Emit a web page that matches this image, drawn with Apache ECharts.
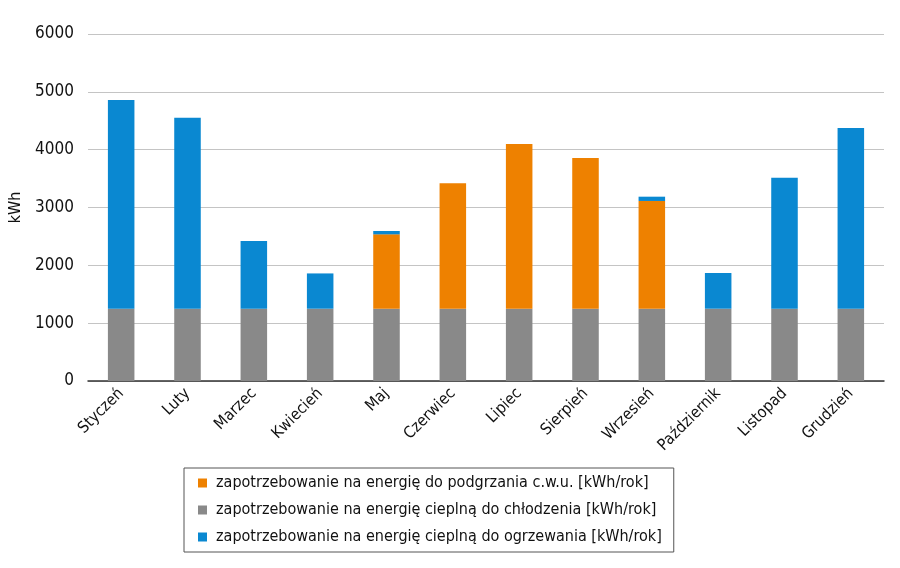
<!DOCTYPE html>
<html>
<head>
<meta charset="utf-8">
<script src="https://cdn.jsdelivr.net/npm/echarts@6/dist/echarts.min.js"></script>
<style>
  html, body { margin: 0; padding: 0; background: #fff; }
  #chart { width: 900px; height: 568px; }
</style>
</head>
<body>
<div id="chart"></div>
<script>
// monthly energy demand, kWh
const months = ["Styczeń", "Luty", "Marzec", "Kwiecień", "Maj", "Czerwiec", "Lipiec",
    "Sierpień", "Wrzesień", "Październik", "Listopad", "Grudzień"];
const cooling = [1250, 1250, 1250, 1250, 1250, 1250, 1250, 1250, 1250, 1250, 1250, 1250];
const hotWater = [0, 0, 0, 0, 1286, 2170, 2850, 2605, 1863, 0, 0, 0];
const heating = [3610, 3300, 1170, 610, 58, 0, 0, 0, 74, 617, 2266, 3125];
const seriesNames = [
    "zapotrzebowanie na energię do podgrzania c.w.u. [kWh/rok]",
    "zapotrzebowanie na energię cieplną do chłodzenia [kWh/rok]",
    "zapotrzebowanie na energię cieplną do ogrzewania [kWh/rok]"
];

const FONT = "'Liberation Sans Narrow', 'DejaVu Sans Condensed', 'Liberation Sans', sans-serif";

const chart = echarts.init(document.getElementById("chart"));
const bar = (name, data, color) => ({
    name,
    type: "bar",
    stack: "total",
    barWidth: "40%",
    data,
    itemStyle: { color }
});

chart.setOption({
    animation: false,
    backgroundColor: "#fff",
    textStyle: { fontFamily: FONT },
    grid: { left: 88, right: 16, top: 34, bottom: 187, outerBoundsMode: "none", containLabel: false },
    legend: {
        orient: "vertical",
        left: 184,
        top: 468,
        width: 484,
        padding: [7, 12, 7, 14],
        itemGap: 11,
        itemWidth: 9,
        itemHeight: 9,
        icon: "rect",
        borderColor: "#555",
        borderWidth: 1,
        textStyle: { fontFamily: FONT, fontSize: 16, color: "#111", padding: [0, 0, 0, 4] },
        data: seriesNames
    },
    xAxis: {
        type: "category",
        data: months,
        axisLine: { lineStyle: { color: "#333", width: 1.5 } },
        axisTick: { show: false },
        axisLabel: { rotate: 45, fontSize: 16, color: "#111", margin: 10, interval: 0 }
    },
    yAxis: {
        type: "value",
        min: 0,
        max: 6000,
        interval: 1000,
        name: "kWh",
        nameLocation: "middle",
        nameGap: 64,
        nameTextStyle: { fontSize: 16, color: "#111", fontFamily: FONT },
        axisLine: { show: false },
        axisTick: { show: false },
        axisLabel: { fontSize: 17, color: "#111", margin: 14, formatter: v => String(v) },
        splitLine: { lineStyle: { color: "#c4c4c4", width: 1 } }
    },
    series: [
        bar(seriesNames[1], cooling, "#898989"),
        bar(seriesNames[0], hotWater, "#ee8100"),
        bar(seriesNames[2], heating, "#0a88d1")
    ]
});
</script>
</body>
</html>
